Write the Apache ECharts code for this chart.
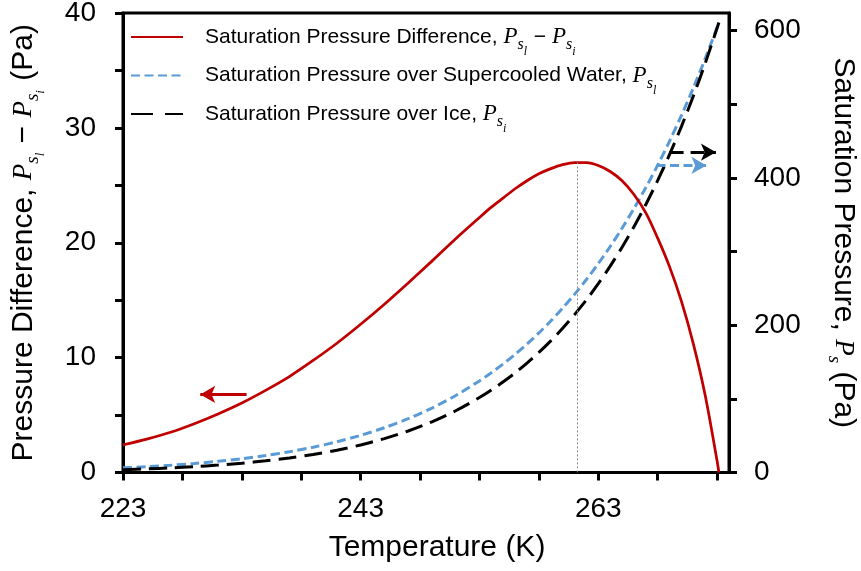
<!DOCTYPE html>
<html><head><meta charset="utf-8">
<script src="https://cdn.jsdelivr.net/npm/echarts@6/dist/echarts.min.js"></script>
<style>html,body{margin:0;padding:0;background:#fff}#c{width:861px;height:571px}</style>
</head><body><div id="c"></div>
<script>
// Temperature (K)
const temps = [223,225,227,229,231,233,235,237,239,241,243,245,247,249,251,253,
  254,255,256,257,258,259,260,261,262,263,264,265,266,267,268,269,270,271,272,273,273.15];
// Saturation pressure difference P_sl - P_si (Pa), left axis
const psDiff = [2.4,2.9,3.5,4.25,5.1,6.05,7.15,8.35,9.75,11.25,12.9,14.65,16.5,18.4,20.35,22.2,
  23.1,23.9,24.7,25.4,26.0,26.45,26.8,26.98,26.97,26.72,26.2,25.4,24.2,22.6,20.4,17.9,14.9,11.2,6.7,1.0,0];
// Saturation pressure over supercooled water (Pa), right axis
const psWater = [6.3,7.9,9.85,12.25,15.2,18.7,23.0,28.2,34.3,41.7,50.5,60.8,73.1,87.5,104.5,124.4,
  135.5,147.5,160.5,174.5,189.5,205.7,223.2,241.9,262.1,283.7,306.9,331.7,358.4,386.9,417.4,450.1,485.0,522.3,562.1,604.6,611.2];
// Saturation pressure over ice (Pa), right axis
const psIce = [3.9,4.9,6.3,8.0,10.05,12.6,15.8,19.7,24.5,30.3,37.4,46.0,56.4,68.9,83.9,101.8,
  112.0,123.2,135.3,148.6,163.0,178.7,195.8,214.4,234.5,256.4,280.2,305.9,333.8,364.0,396.6,431.9,470.1,511.3,555.7,603.7,611.2];

// axis ticks / labels
const xTicks = [223,228,233,238,243,248,253,258,263,268,273];
const xLabels = [223,243,263];
const yLeftTicks = [0,5,10,15,20,25,30,35,40];
const yLeftLabels = [0,10,20,30,40];
const yRightTicks = [0,100,200,300,400,500,600];
const yRightLabels = [0,200,400,600];

// annotations (data coordinates)
const arrowDiff = [[233.4, 6.8],[229.5, 6.8]];
const arrowWater = [[267.9, 417],[272.1, 417]];
const arrowIce = [[269.0, 435],[272.9, 435]];
const peakLine = [[261.24, 27.0],[261.24, 0]];

const names = ['Saturation Pressure Difference','Saturation Pressure over Supercooled Water','Saturation Pressure over Ice'];

const SANS = "'Liberation Sans', Arial, sans-serif";
const SERIF = "'Liberation Serif', 'DejaVu Serif', serif";
const RED = '#C00000', BLUE = '#5B9BD5', BLACK = '#000000';

function pairs(ys){ return temps.map((t,i)=>[t, ys[i]]); }
function arrowML(seg, color, dash){
  return {
    silent:true, animation:false, symbol:['none','arrow'], symbolSize:[13,15],
    label:{show:false}, emphasis:{disabled:true},
    lineStyle:{color:color, width:3, type:dash},
    data:[[{coord:seg[0]},{coord:seg[1]}]]
  };
}

const LLH = 44;
const legendRich = {
  t:{fontSize:21, fontFamily:SANS, color:'#000', lineHeight:LLH},
  P:{fontSize:23, fontFamily:SERIF, fontStyle:'italic', color:'#000', lineHeight:LLH},
  s:{fontSize:16, fontFamily:SERIF, fontStyle:'italic', color:'#000', lineHeight:LLH, padding:[16,0,0,0]},
  ss:{fontSize:12, fontFamily:SERIF, fontStyle:'italic', color:'#000', lineHeight:LLH, padding:[30,1,0,0]}
};
const TLH = 48;
const titleRich = {
  t:{fontSize:30, fontFamily:SANS, color:'#000', lineHeight:TLH},
  P:{fontSize:27, fontFamily:SERIF, fontStyle:'italic', color:'#000', lineHeight:TLH},
  s:{fontSize:19, fontFamily:SERIF, fontStyle:'italic', color:'#000', lineHeight:TLH, padding:[18,0,0,0]},
  ss:{fontSize:13, fontFamily:SERIF, fontStyle:'italic', color:'#000', lineHeight:TLH, padding:[34,1,0,0]}
};

const chart = echarts.init(document.getElementById('c'), null, {renderer:'canvas'});
chart.setOption({
  animation:false,
  backgroundColor:'#fff',
  grid:{left:123, right:132, top:13, bottom:98.5, show:true, borderColor:'#000', borderWidth:3,
        containLabel:false, outerBoundsMode:'none'},
  legend:{
    orient:'vertical', left:130, top:16, padding:0, itemGap:-3.5,
    itemWidth:52, itemHeight:14,
    itemStyle:{opacity:0},
    data:[
      {name:names[0]},
      {name:names[1]},
      {name:names[2], lineStyle:{type:[22,12]}}
    ],
    textStyle:{fontSize:21, fontFamily:SANS, color:'#000', padding:[0,0,0,17], rich:legendRich},
    formatter:function(n){
      if(n===names[0]) return '{t|Saturation Pressure Difference, }{P|P}{s|s}{ss|l}{t| − }{P|P}{s|s}{ss|i}';
      if(n===names[1]) return '{t|Saturation Pressure over Supercooled Water, }{P|P}{s|s}{ss|l}';
      return '{t|Saturation Pressure over Ice, }{P|P}{s|s}{ss|i}';
    }
  },
  xAxis:{
    type:'value', min:223, max:274,
    name:'Temperature (K)', nameLocation:'middle', nameGap:60,
    nameTextStyle:{fontSize:30, fontFamily:SANS, color:'#000', padding:[0,0,0,22]},
    axisLine:{show:true, onZero:false, lineStyle:{color:'#000', width:3}},
    axisTick:{show:true, customValues:xTicks, length:8, lineStyle:{color:'#000', width:3}},
    axisLabel:{customValues:xLabels, fontSize:28, fontFamily:SANS, color:'#000', margin:23},
    splitLine:{show:false}
  },
  yAxis:[{
    type:'value', min:0, max:40, position:'left',
    name:'{t|Pressure Difference, }{P|P}{s|s}{ss|l}{t| − }{P|P}{s|s}{ss|i}{t| (Pa)}',
    nameLocation:'middle', nameRotate:90, nameGap:75,
    nameTextStyle:{rich:titleRich},
    axisLine:{show:true, onZero:false, lineStyle:{color:'#000', width:3}},
    axisTick:{show:true, customValues:yLeftTicks, length:8, lineStyle:{color:'#000', width:3}},
    axisLabel:{customValues:yLeftLabels, fontSize:28, fontFamily:SANS, color:'#000', margin:27},
    splitLine:{show:false}
  },{
    type:'value', min:0, max:624, position:'right',
    name:'{t|Saturation Pressure, }{P|P}{s|s}{t| (Pa)}',
    nameLocation:'middle', nameRotate:-90, nameGap:90,
    nameTextStyle:{rich:titleRich},
    axisLine:{show:true, onZero:false, lineStyle:{color:'#000', width:3}},
    axisTick:{show:true, customValues:yRightTicks, length:8, lineStyle:{color:'#000', width:3}},
    axisLabel:{customValues:yRightLabels, fontSize:28, fontFamily:SANS, color:'#000', margin:25},
    splitLine:{show:false}
  }],
  series:[{
    name:names[1], type:'line', yAxisIndex:1, data:pairs(psWater), smooth:0.3,
    symbol:'none', lineStyle:{color:BLUE, width:3, type:[9,4.5]}, itemStyle:{color:BLUE},
    markLine:arrowML(arrowWater, BLUE, [9,4.5])
  },{
    name:names[2], type:'line', yAxisIndex:1, data:pairs(psIce), smooth:0.3,
    symbol:'none', lineStyle:{color:BLACK, width:3, type:[18,8]}, itemStyle:{color:BLACK},
    markLine:arrowML(arrowIce, BLACK, [14,7])
  },{
    name:names[0], type:'line', yAxisIndex:0, data:pairs(psDiff), smooth:0.3,
    symbol:'none', lineStyle:{color:RED, width:2.75}, itemStyle:{color:RED},
    markLine:{
      silent:true, animation:false, symbol:['none','none'], label:{show:false}, emphasis:{disabled:true},
      data:[
        [{coord:peakLine[0], lineStyle:{color:'#8c8c8c', width:1, type:[2,2]}},{coord:peakLine[1]}],
        [{coord:arrowDiff[0], symbol:'none', lineStyle:{color:RED, width:3, type:'solid'}},{coord:arrowDiff[1], symbol:'arrow', symbolSize:[13,15]}]
      ]
    }
  }]
});
</script></body></html>
